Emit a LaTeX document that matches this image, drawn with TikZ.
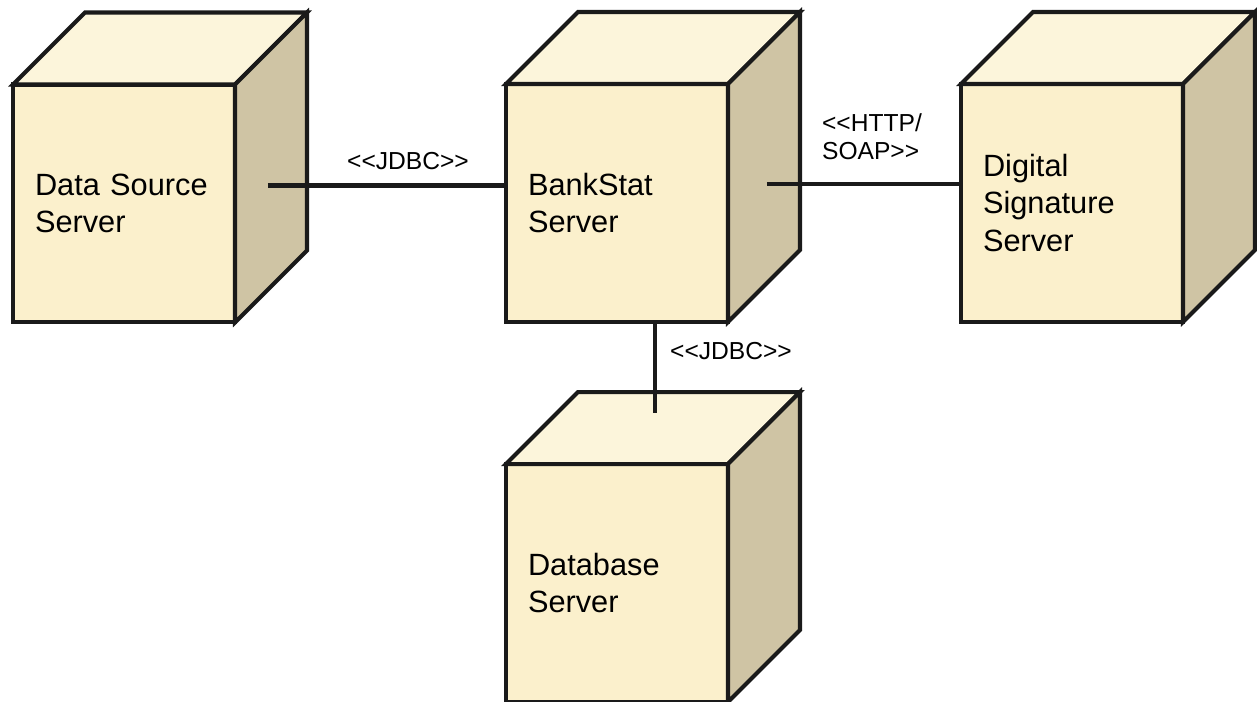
\documentclass[tikz,border=0pt]{standalone}
\usepackage{fontspec}
\setmainfont{Liberation Sans}
\usetikzlibrary{calc}
\definecolor{frontcol}{HTML}{FBF0CC}
\definecolor{topcol}{HTML}{FCF5DB}
\definecolor{sidecol}{HTML}{CFC4A4}
\definecolor{edgecol}{HTML}{1A1A1A}
\tikzset{
	box/.style={draw=edgecol, line width=2.3pt, fill=frontcol, minimum width=4.44cm, minimum height=4.76cm, inner sep=0pt, outer sep=0pt, text width=3.56cm, align=left, font=\fontsize{17.5}{21.5}\selectfont},
	face/.style={draw=edgecol, line width=2.3pt},
	link/.style={draw=edgecol, line width=2.3pt},
	lbl/.style={font=\fontsize{14}{16}\selectfont, align=left, inner sep=0pt}
}

\begin{document}
\begin{tikzpicture}[x=0.02cm, y=-0.02cm]
				\useasboundingbox (0,0) rectangle (1257,702);
				\node[box] (ds) at (124,203.5) {Data Source\\Server};
				\node[box] (bs) at (617,203) {BankStat\\Server};
				\node[box] (dg) at (1072,203) {Digital\\Signature\\Server};
				\node[box] (db) at (617,583) {Database\\Server};
				\foreach \n in {ds,bs,dg,db} {
					\filldraw[face, fill=topcol] (\n.north west) -- ++(72,-72) -- ($(\n.north east)+(72,-72)$) -- (\n.north east) -- cycle;
					\filldraw[face, fill=sidecol] (\n.north east) -- ++(72,-72) -- ($(\n.south east)+(72,-72)$) -- (\n.south east) -- cycle;
				}
				\coordinate (p1) at ($(ds.east)+(33,-18)$);
				\coordinate (p2) at ($(bs.east)+(39,-19)$);
				\coordinate (p3) at ($(db.north)+(38,-51)$);
				\draw[link] (p1) -- (p1 -| bs.west);
				\draw[link] (p2) -- (p2 -| dg.west);
				\draw[link] (bs.south -| p3) -- (p3);
				\node[lbl] (l1) at (408,161) {<\kern0pt<JDBC>\kern0pt>};
				\node[lbl] (l2) at (872,137) {<\kern0pt<HTTP/\\SOAP>\kern0pt>};
				\node[lbl] (l3) at (731,351) {<\kern0pt<JDBC>\kern0pt>};
			\end{tikzpicture}
\end{document}
